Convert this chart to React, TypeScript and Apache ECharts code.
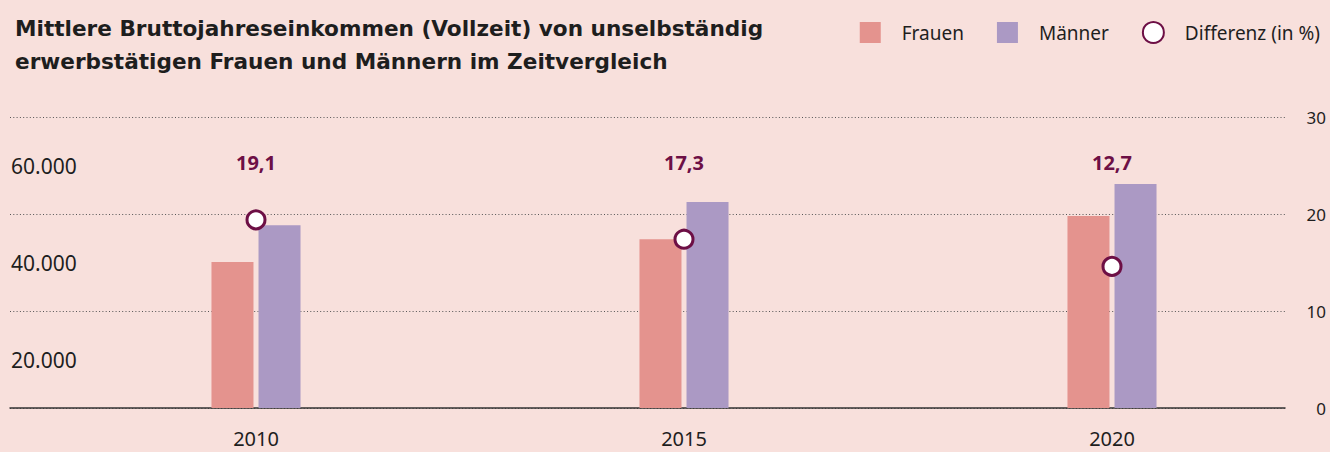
import React, { useEffect, useRef } from "react";
import * as echarts from "echarts";

const years = ["2010", "2015", "2020"];
const frauen = [30100, 34800, 39600];
const maenner = [37700, 42500, 46200];
const differenz = [19.4, 17.4, 14.6];
const differenzLabels = ["19,1", "17,3", "12,7"];
const leftTicks = { min: 0, max: 60000, interval: 20000 };
const rightTicks = { min: 0, max: 30, interval: 10 };

const BG = "#f8e0dc";
const ROSE = "#e4938e";
const LILAC = "#ab99c4";
const PLUM = "#6d0f45";
const INK = "#1e1e1e";
const FONT = "'Noto Sans', Lato, sans-serif";
const TITLE_FONT = "'DejaVu Sans', 'Noto Sans', sans-serif";

function fmtDe(v: number): string {
  const s = Math.round(v).toString();
  return s.replace(/\B(?=(\d{3})+(?!\d))/g, ".");
}

export default function App() {
  const ref = useRef<HTMLDivElement>(null);
  useEffect(() => {
    document.body.style.margin = "0";
    document.body.style.background = BG;
    const chart = echarts.init(ref.current!, null, { renderer: "svg" });
    const gridBox = { top: 117, bottom: 44 };
    chart.setOption({
      animation: false,
      backgroundColor: BG,
      textStyle: { fontFamily: FONT },
      title: {
        text: "Mittlere Bruttojahreseinkommen (Vollzeit) von unselbständig\nerwerbstätigen Frauen und Männern im Zeitvergleich",
        left: 10,
        top: 7,
        textStyle: { fontFamily: TITLE_FONT, fontSize: 21.6, fontWeight: "bold", color: INK, lineHeight: 33 },
      },
      legend: {
        right: 5,
        top: 16,
        itemWidth: 21,
        itemHeight: 21,
        itemGap: 33,
        textStyle: { fontFamily: FONT, fontSize: 19, color: INK, padding: [0, 0, 0, 16] },
        data: [
          { name: "Frauen", icon: "rect" },
          { name: "Männer", icon: "rect" },
          { name: "Differenz (in %)", icon: "circle" },
        ],
      },
      grid: [
        { left: 10, right: 45, ...gridBox },
        { left: 42, right: 4, ...gridBox },
      ],
      xAxis: [
        {
          gridIndex: 0,
          type: "category",
          data: [""],
          axisLine: { show: true, lineStyle: { color: "#333", width: 1.5 } },
          axisTick: { show: false },
          axisLabel: { show: false },
        },
        {
          gridIndex: 1,
          type: "category",
          data: years,
          axisLine: { show: false },
          axisTick: { show: false },
          axisLabel: { fontFamily: FONT, fontSize: 20, color: INK, margin: 20 },
        },
        {
          gridIndex: 1,
          type: "category",
          position: "top",
          data: differenzLabels,
          axisLine: { show: false },
          axisTick: { show: false },
          axisLabel: {
            inside: true,
            margin: 35,
            fontFamily: FONT,
            fontSize: 20,
            fontWeight: "bold",
            color: PLUM,
          },
        },
      ],
      yAxis: [
        {
          gridIndex: 0,
          type: "value",
          position: "left",
          ...leftTicks,
          axisLine: { show: false },
          axisTick: { show: false },
          splitLine: { show: true, lineStyle: { color: "#555", width: 1, type: [1, 2.3] } },
          axisLabel: {
            inside: true,
            margin: 1,
            align: "left",
            verticalAlign: "top",
            padding: [38, 0, 0, 0],
            fontFamily: FONT,
            fontSize: 21,
            color: INK,
            formatter: (v: number) => (v === 0 ? "" : fmtDe(v)),
          },
        },
        {
          gridIndex: 0,
          type: "value",
          position: "right",
          ...rightTicks,
          axisLine: { show: false },
          axisTick: { show: false },
          splitLine: { show: false },
          axisLabel: { align: "right", margin: 41, fontFamily: FONT, fontSize: 17, color: INK },
        },
        { gridIndex: 1, type: "value", ...leftTicks, show: false },
        { gridIndex: 1, type: "value", ...rightTicks, show: false },
      ],
      series: [
        {
          name: "Frauen",
          type: "bar",
          xAxisIndex: 1,
          yAxisIndex: 2,
          data: frauen,
          barWidth: 42,
          barGap: "12%",
          itemStyle: { color: ROSE },
        },
        {
          name: "Männer",
          type: "bar",
          xAxisIndex: 1,
          yAxisIndex: 2,
          data: maenner,
          barWidth: 42,
          barGap: "12%",
          itemStyle: { color: LILAC },
        },
        {
          name: "Differenz (in %)",
          type: "scatter",
          xAxisIndex: 1,
          yAxisIndex: 3,
          data: differenz,
          symbol: "circle",
          symbolSize: 18,
          z: 5,
          itemStyle: { color: "#ffffff", borderColor: PLUM, borderWidth: 3, opacity: 1 },
        },
      ],
    });
    return () => chart.dispose();
  }, []);
  return (
    <div
      ref={ref}
      style={{ position: "absolute", left: 0, top: 0, width: 1330, height: 452, background: BG }}
    />
  );
}
